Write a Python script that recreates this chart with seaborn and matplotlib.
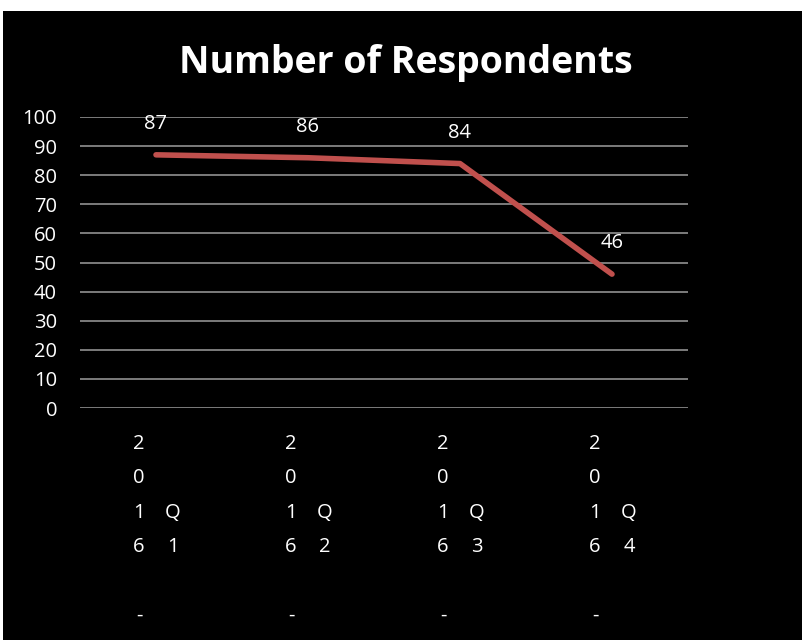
import matplotlib
matplotlib.use('Agg')
import matplotlib.pyplot as plt
import matplotlib.transforms as mtransforms
import pandas as pd
import seaborn as sns

# chart data
quarters = ['2016-Q1', '2016-Q2', '2016-Q3', '2016-Q4']
respondents = [87, 86, 84, 46]
y_ticks = [0, 10, 20, 30, 40, 50, 60, 70, 80, 90, 100]

df = pd.DataFrame({'quarter': quarters, 'respondents': respondents})

sns.set_theme(style='dark')
plt.rcParams['font.family'] = ['Open Sans', 'DejaVu Sans']

fig = plt.figure(figsize=(8.03, 6.4), dpi=100)
fig.patch.set_facecolor('white')
# black chart area with thin white strip at top / left
fig.add_artist(plt.Rectangle((3 / 803, 0), 1, 1 - 11 / 640, transform=fig.transFigure,
                             facecolor='black', edgecolor='none', zorder=0))

ax = fig.add_axes([80 / 803, 1 - 408 / 640, 608 / 803, 291 / 640])
ax.set_facecolor('black')

sns.lineplot(data=df, x='quarter', y='respondents', ax=ax, color='#C0504D',
             linewidth=4, solid_capstyle='round', solid_joinstyle='round', zorder=3)

ax.set_xlim(-0.5, len(quarters) - 0.5)
ax.set_ylim(0, 100)
ax.set_yticks(y_ticks)
ax.yaxis.grid(True, color='#868686', linewidth=1.3)
ax.xaxis.grid(False)
for s in ax.spines.values():
    s.set_visible(False)
ax.tick_params(axis='y', colors='white', labelsize=14.5, length=0, pad=16.5)
ax.tick_params(axis='x', length=0)
ax.set_xticks(range(len(quarters)))
ax.set_xticklabels([''] * len(quarters))
ax.set_xlabel('')
ax.set_ylabel('')

# data labels
for i, v in enumerate(respondents):
    ax.annotate(str(v), (i, v), xytext=(0, 22.3), textcoords='offset points',
                ha='center', va='center', color='white', fontsize=14.5)

# wrapped category labels, Excel style: one character per row, two columns
trans = mtransforms.blended_transform_factory(ax.transData, ax.transAxes)
row0 = -36 / 291    # first row centre below the axis
row_step = 34.3 / 291
for i, q in enumerate(quarters):
    year, qq = q.split('-')
    left_col = list(year) + ['', '-']
    right_col = ['', ''] + list(qq)
    for r, ch in enumerate(left_col):
        if ch:
            ax.text(i - 0.112, row0 - r * row_step, ch, transform=trans, ha='center',
                    va='center', color='white', fontsize=14.5)
    for r, ch in enumerate(right_col):
        if ch:
            ax.text(i + 0.112, row0 - r * row_step, ch, transform=trans, ha='center',
                    va='center', color='white', fontsize=14.5)

fig.text(406 / 803, 1 - 73 / 640, 'Number of Respondents', ha='center', va='baseline',
         color='white', fontsize=27, fontweight='bold')

fig.savefig('out.png', dpi=100, facecolor=fig.get_facecolor())
